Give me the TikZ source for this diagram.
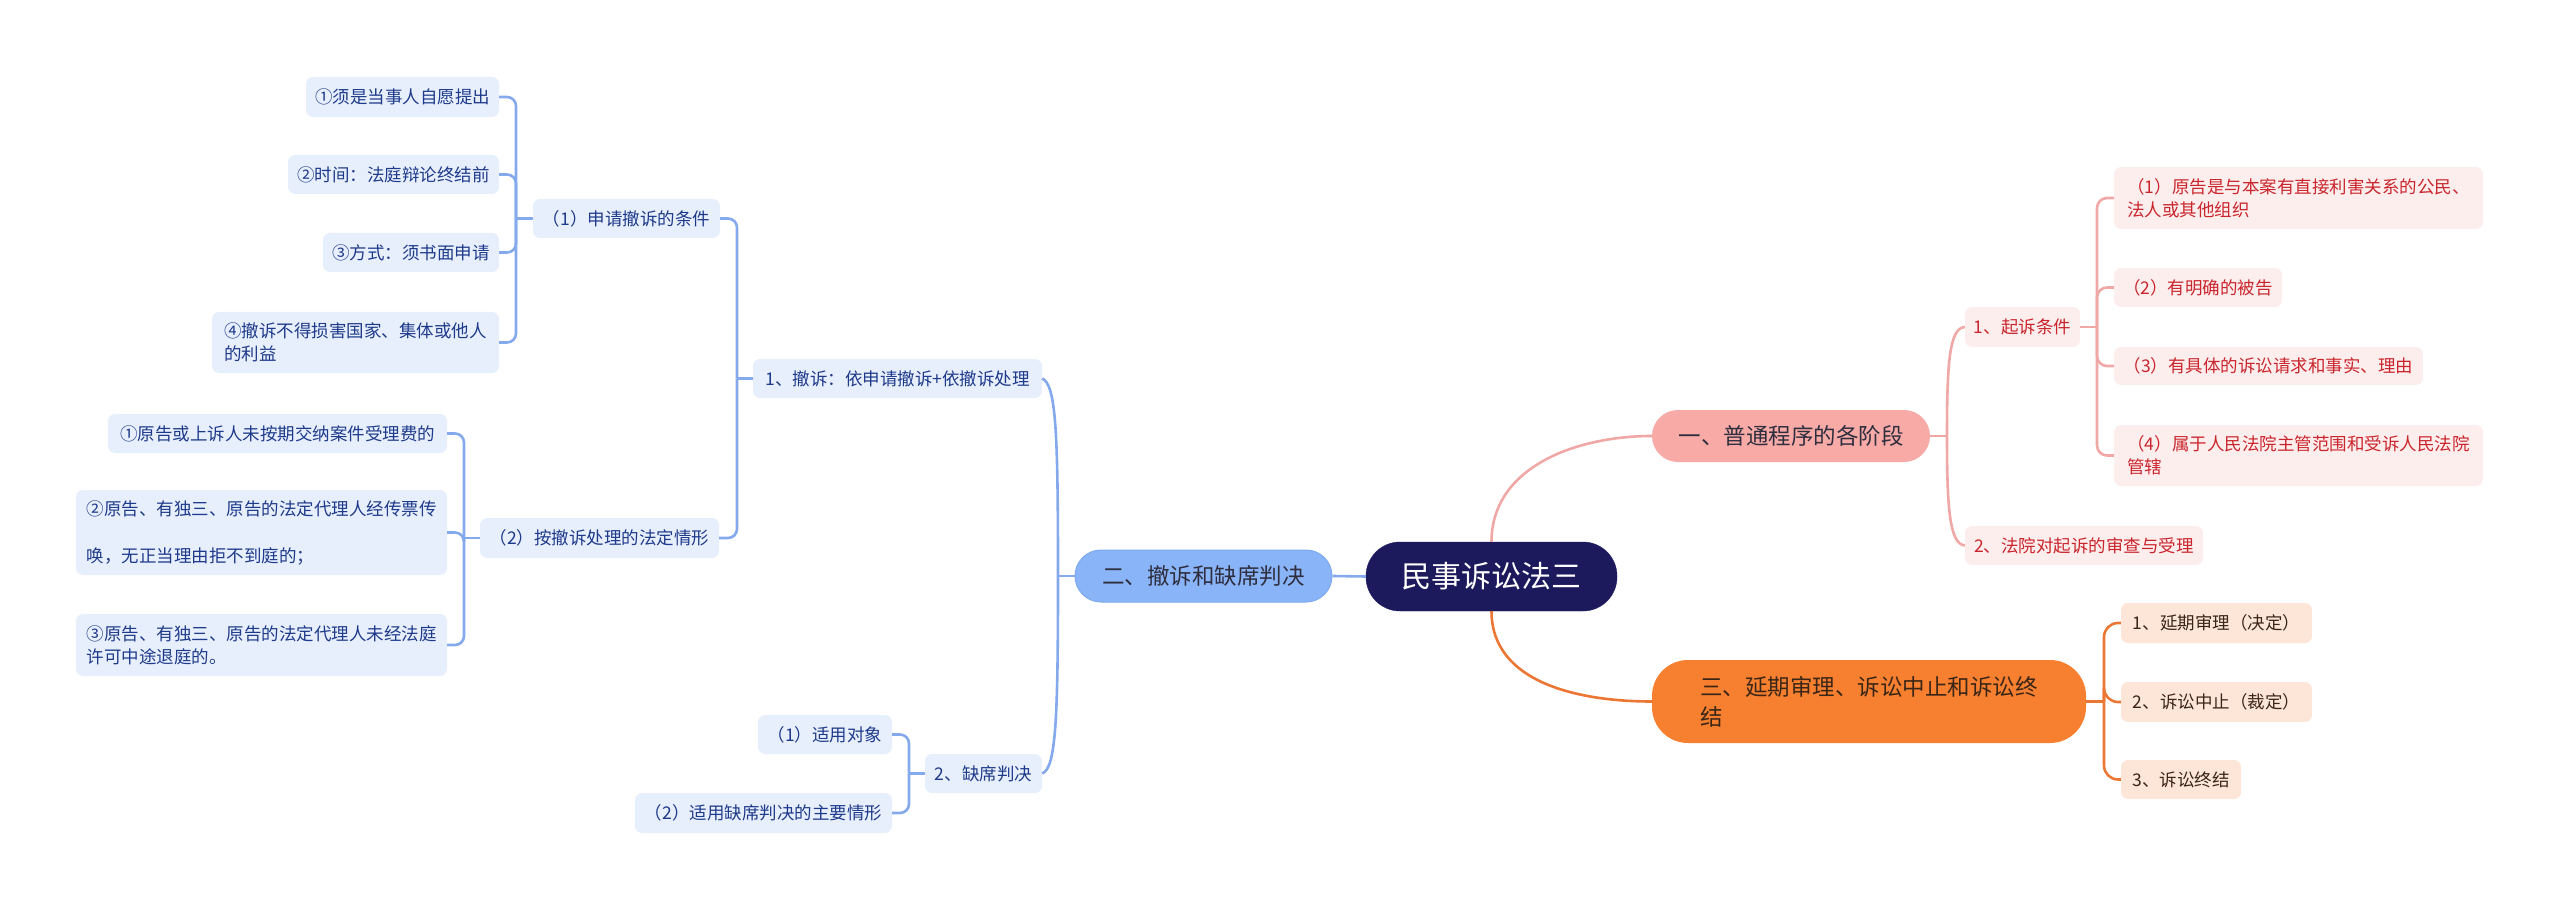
\documentclass[tikz,border=0pt]{standalone}
\usepackage{fontspec}
\setmainfont{Noto Sans CJK SC}
\definecolor{cnavy}{HTML}{1C1A5C}
\definecolor{blc}{HTML}{84A9EC}
\definecolor{bfill}{HTML}{E7EFFD}
\definecolor{btext}{HTML}{1E3A8A}
\definecolor{bmain}{HTML}{8AB4F8}
\definecolor{bmainb}{HTML}{7EA8F0}
\definecolor{plc}{HTML}{F0A8A6}
\definecolor{pmain}{HTML}{F8AAA7}
\definecolor{pfill}{HTML}{FDEEEE}
\definecolor{ptext}{HTML}{C9252C}
\definecolor{olc}{HTML}{EC7633}
\definecolor{omain}{HTML}{F77F30}
\definecolor{ofill}{HTML}{FDE6D8}
\definecolor{otext}{HTML}{3A2616}
\definecolor{dtext}{HTML}{2E2E3E}
\begin{document}
\begin{tikzpicture}[x=1pt,y=1pt,
  every node/.style={inner sep=0pt, align=left},
  leaf/.style={rounded corners=7pt, font=\fontsize{17.5}{23}\selectfont},
  bleaf/.style={leaf, fill=bfill, text=btext},
  pleaf/.style={leaf, fill=pfill, text=ptext},
  oleaf/.style={leaf, fill=ofill, text=otext},
  mainnode/.style={font=\fontsize{22.5}{30}\selectfont, rounded corners=26pt},
  bcon/.style={draw=blc, line width=2.6pt, rounded corners=9pt},
  pcon/.style={draw=plc, line width=2.6pt, rounded corners=10pt},
  ocon/.style={draw=olc, line width=2.6pt, rounded corners=14pt},
]
\useasboundingbox (0,0) rectangle (2560,-909);

% central
\node[fill=cnavy, draw=cnavy, text=white, rounded corners=34pt, minimum width=251pt, minimum height=69pt,
  font=\fontsize{30}{36}\selectfont] (C) at (1491.5,-576.5) {民事诉讼法三};

% main branches
\node[mainnode, fill=bmain, draw=bmainb, line width=1pt, text=dtext, minimum width=257pt, minimum height=52pt] (N2) at (1203.5,-576) {二、撤诉和缺席判决};
\node[mainnode, fill=pmain, text=dtext, minimum width=278pt, minimum height=52pt] (N1) at (1791,-436) {一、普通程序的各阶段};
\node[mainnode, fill=omain, text=otext, rounded corners=36pt, minimum width=434pt, minimum height=83pt] (N3) at (1869,-701.5) {三、延期审理、诉讼中止和诉讼终\\结};

% blue side
\node[bleaf, minimum width=289pt, minimum height=39pt] (C1) at (897.5,-378.5) {1、撤诉：依申请撤诉+依撤诉处理};
\node[bleaf, minimum width=117pt, minimum height=39pt] (C2) at (983.5,-773.5) {2、缺席判决};
\node[bleaf, minimum width=187pt, minimum height=39pt] (B1) at (626.5,-218.5) {（1）申请撤诉的条件};
\node[bleaf, minimum width=239pt, minimum height=40pt] (B2) at (599.5,-538) {（2）按撤诉处理的法定情形};
\node[bleaf, minimum width=193pt, minimum height=40pt] (A1) at (402.5,-97) {①须是当事人自愿提出};
\node[bleaf, minimum width=211pt, minimum height=39pt] (A2) at (393.5,-174.5) {②时间：法庭辩论终结前};
\node[bleaf, minimum width=176pt, minimum height=39pt] (A3) at (411,-252.5) {③方式：须书面申请};
\node[bleaf, minimum width=287pt, minimum height=61pt] (A4) at (355.5,-342.5) {④撤诉不得损害国家、集体或他人\\的利益};
\node[bleaf, minimum width=339pt, minimum height=39pt] (D1) at (277.5,-433.5) {①原告或上诉人未按期交纳案件受理费的};
\node[bleaf, minimum width=371pt, minimum height=85pt] (D2) at (261.5,-532.5) {②原告、有独三、原告的法定代理人经传票传\\[24pt]唤，无正当理由拒不到庭的；};
\node[bleaf, minimum width=371pt, minimum height=62pt] (D3) at (261.5,-645) {③原告、有独三、原告的法定代理人未经法庭\\许可中途退庭的。};
\node[bleaf, minimum width=134pt, minimum height=39pt] (E1) at (825,-734.5) {（1）适用对象};
\node[bleaf, minimum width=257pt, minimum height=40pt] (E2) at (763.5,-813) {（2）适用缺席判决的主要情形};

% pink side
\node[pleaf, minimum width=115pt, minimum height=40pt] (F1) at (2022.5,-327) {1、起诉条件};
\node[pleaf, minimum width=238pt, minimum height=39pt] (F2) at (2084,-545.5) {2、法院对起诉的审查与受理};
\node[pleaf, minimum width=369pt, minimum height=62pt] (G1) at (2298.5,-198) {（1）原告是与本案有直接利害关系的公民、\\法人或其他组织};
\node[pleaf, minimum width=168pt, minimum height=39pt] (G2) at (2198,-287.5) {（2）有明确的被告};
\node[pleaf, minimum width=309pt, minimum height=38pt] (G3) at (2268.5,-366) {（3）有具体的诉讼请求和事实、理由};
\node[pleaf, minimum width=369pt, minimum height=61pt] (G4) at (2298.5,-455.5) {（4）属于人民法院主管范围和受诉人民法院\\管辖};

% orange side
\node[oleaf, minimum width=191pt, minimum height=40pt] (H1) at (2216.5,-623) {1、延期审理（决定）};
\node[oleaf, minimum width=191pt, minimum height=40pt] (H2) at (2216.5,-702) {2、诉讼中止（裁定）};
\node[oleaf, minimum width=120pt, minimum height=39pt] (H3) at (2181,-779.5) {3、诉讼终结};

% junctions
\coordinate (J2) at (1058,-576);
\coordinate (M) at (737,-378.5);
\coordinate (Nj) at (516,-218.5);
\coordinate (Pj) at (464,-538);
\coordinate (Qj) at (909,-773.5);
\coordinate (J1) at (1947,-436);
\coordinate (K) at (2097,-327);
\coordinate (L) at (2104,-701.5);

% main connectors
\draw[draw=plc, line width=2.6pt] (C.north) to[out=90,in=180] (N1.west);
\draw[draw=olc, line width=2.6pt] (C.south) to[out=-90,in=180] (N3.west);
\draw[draw=blc, line width=2.6pt] (C.west) -- (N2.east);

% blue connectors
\draw[bcon] (N2.west) -- (J2);
\draw[draw=blc, line width=2.6pt] (J2) .. controls (1058,-430) and (1056,-385) .. (C1.east);
\draw[draw=blc, line width=2.6pt] (J2) .. controls (1058,-720) and (1056,-768) .. (C2.east);
\draw[bcon] (C1.west) -- (M);
\draw[bcon] (M) |- (B1.east);
\draw[bcon] (M) |- (B2.east);
\draw[bcon] (B1.west) -- (Nj);
\foreach \n in {A1,A2,A3,A4} \draw[bcon] (Nj) |- (\n.east);
\draw[bcon] (B2.west) -- (Pj);
\foreach \n in {D1,D2,D3} \draw[bcon] (Pj) |- (\n.east);
\draw[bcon] (C2.west) -- (Qj);
\foreach \n in {E1,E2} \draw[bcon] (Qj) |- (\n.east);

% pink connectors
\draw[pcon] (N1.east) -- (J1);
\draw[draw=plc, line width=2.6pt] (J1) .. controls (1947,-365) and (1949,-328) .. (F1.west);
\draw[draw=plc, line width=2.6pt] (J1) .. controls (1947,-505) and (1949,-544) .. (F2.west);
\draw[pcon] (F1.east) -- (K);
\foreach \n in {G1,G2,G3,G4} \draw[pcon] (K) |- (\n.west);

% orange connectors
\draw[ocon] (N3.east) -- (L);
\foreach \n in {H1,H2,H3} \draw[ocon] (L) |- (\n.west);
\end{tikzpicture}
\end{document}
